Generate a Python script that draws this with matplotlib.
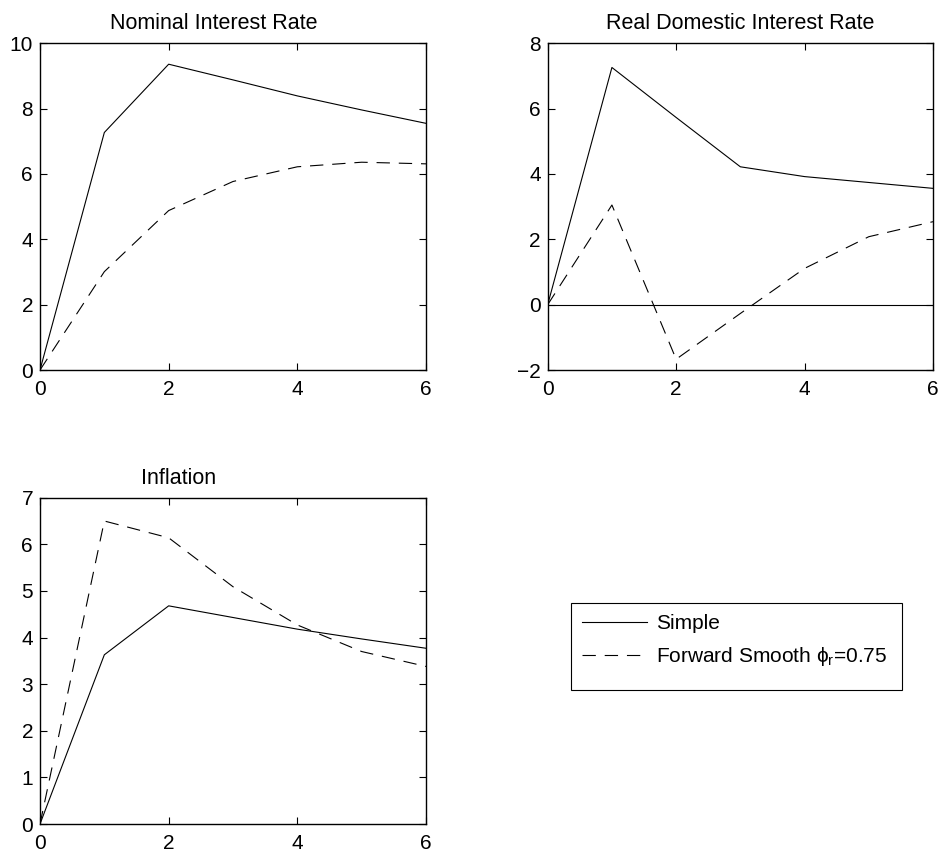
import matplotlib.pyplot as plt
from matplotlib.patches import Rectangle

plt.rcParams['font.family'] = ['Liberation Sans', 'DejaVu Sans']
plt.rcParams['mathtext.fontset'] = 'custom'
plt.rcParams['mathtext.rm'] = 'Liberation Sans'
plt.rcParams['mathtext.it'] = 'Liberation Sans'

periods = [0, 1, 2, 3, 4, 5, 6]

# Nominal interest rate
nominal_simple = [0, 7.27, 9.36, 8.88, 8.39, 7.96, 7.55]
nominal_smooth = [0, 3.01, 4.88, 5.77, 6.22, 6.36, 6.31]

# Real domestic interest rate
real_simple = [0, 7.26, 5.73, 4.22, 3.92, 3.74, 3.56]
real_smooth = [0, 3.05, -1.67, -0.27, 1.11, 2.08, 2.54]

# Inflation
infl_simple = [0, 3.63, 4.68, 4.43, 4.18, 3.97, 3.77]
infl_smooth = [0, 6.50, 6.14, 5.09, 4.27, 3.70, 3.38]

labels = ['Simple', r'Forward Smooth $\phi_r$=0.75']

W, H = 943, 857
fig = plt.figure(figsize=(W / 100, H / 100), dpi=100)


def box(x0, y0, x1, y1):
    return [x0 / W, 1 - y1 / H, (x1 - x0) / W, (y1 - y0) / H]


ax1 = fig.add_axes(box(40, 43.3, 426, 370))
ax2 = fig.add_axes(box(547.7, 43.3, 933, 370))
ax3 = fig.add_axes(box(40, 497.7, 426, 824))

dash = (12, 8)
panels = [
    (ax1, nominal_simple, nominal_smooth, 'Nominal Interest Rate', 0.451, (0, 10), range(0, 11, 2)),
    (ax2, real_simple, real_smooth, 'Real Domestic Interest Rate', 0.5, (-2, 8), range(-2, 9, 2)),
    (ax3, infl_simple, infl_smooth, 'Inflation', 0.358, (0, 7), range(0, 8)),
]

handles = None
for ax, simple, smooth, title, tx, ylim, yticks in panels:
    l1, = ax.plot(periods, simple, color='k', linewidth=0.8)
    l2, = ax.plot(periods, smooth, color='k', linewidth=0.8, dashes=dash)
    if handles is None:
        handles = [l1, l2]
    ax.set_xlim(0, 6)
    ax.set_ylim(*ylim)
    ax.set_xticks([0, 2, 4, 6])
    ax.set_yticks(list(yticks))
    ax.set_title(title, fontsize=15.5, x=tx, pad=10)
    ax.tick_params(direction='in', top=True, right=True, length=5, width=0.8,
                   labelsize=15)
    ax.tick_params(axis='x', pad=7)
    ax.tick_params(axis='y', pad=5)
    for s in ax.spines.values():
        s.set_linewidth(1.0)

ax2.axhline(0, color='k', linewidth=0.8)

leg = fig.legend(handles, labels, loc='upper left',
                 bbox_to_anchor=(571 / W, 1 - 603 / H), fontsize=15,
                 frameon=False, handlelength=3.1,
                 handletextpad=0.45, borderpad=0.55, labelspacing=0.55,
                 borderaxespad=0)

# MATLAB-style legend box
fig.patches.append(Rectangle((571 / W, 1 - 690 / H), 331 / W, 87 / H,
                             transform=fig.transFigure, fill=False,
                             edgecolor='k', linewidth=0.8))

fig.savefig('out.png', dpi=100)
